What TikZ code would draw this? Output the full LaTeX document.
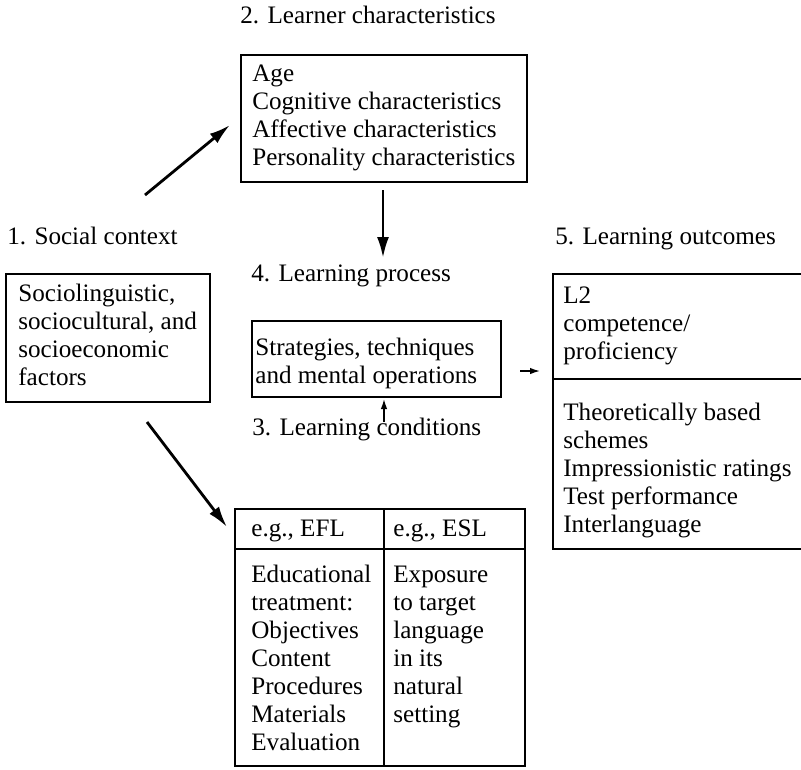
\documentclass[tikz,border=0pt]{standalone}
\usepackage{fontspec}
\setmainfont{Liberation Serif}
\usetikzlibrary{arrows.meta,fit}
\tikzset{
  lbl/.style={anchor=base west, inner sep=0, align=left, font=\fontsize{14.3}{15.9}\selectfont},
  box/.style={draw, line width=0.8pt, inner sep=0},
  bigarr/.style={-{Latex[length=0.42cm,width=0.24cm]}, line width=1.6pt},
  smallarr/.style={-{Latex[length=0.2cm,width=0.13cm]}, line width=0.8pt}
}
\begin{document}
\begin{tikzpicture}[x=0.02cm, y=-0.02cm]
\useasboundingbox (0,0) rectangle (801,769);
\node [box, fit={(241,55) (527,182)}] (learner) {};
\node [box, fit={(6,274) (210,402)}] (social) {};
\node [box, fit={(252,321) (501,397)}] (process) {};
\node [box, fit={(553,274) (812,549)}] (outcome) {};
\node [box, fit={(235,509) (525,766)}] (condition) {};
\draw [line width=0.8pt] (553,379) -- (812,379);
\draw [line width=0.8pt] (384,509) -- (384,766);
\draw [line width=0.8pt] (235,549) -- (525,549);
\node [lbl] (titleLearner) at (240,23) {2. Learner characteristics};
\node [lbl] (textLearner) at (252,165) {Age\\Cognitive characteristics\\Affective characteristics\\Personality characteristics};
\node [lbl] (titleSocial) at (7,244) {1. Social context};
\node [lbl] (textSocial) at (18,385) {Sociolinguistic,\\sociocultural, and\\socioeconomic\\factors};
\node [lbl] (titleProcess) at (251,281) {4. Learning process};
\node [lbl] (textProcess) at (255,383) {Strategies, techniques\\and mental operations};
\node [lbl] (titleCondition) at (252,435) {3. Learning conditions};
\node [lbl] (titleOutcome) at (555,244) {5. Learning outcomes};
\node [lbl] (textOutcome) at (563,359) {L2\\competence/\\proficiency};
\node [lbl] (textMeasure) at (563,532) {Theoretically based\\schemes\\Impressionistic ratings\\Test performance\\Interlanguage};
\node [lbl] (headEFL) at (251,536) {e.g., EFL};
\node [lbl] (headESL) at (393,536) {e.g., ESL};
\node [lbl] (textEFL) at (251,750) {Educational\\treatment:\\Objectives\\Content\\Procedures\\Materials\\Evaluation};
\node [lbl] (textESL) at (393,722) {Exposure\\to target\\language\\in its\\natural\\setting};
\coordinate (socialTop) at (145,195);
\coordinate (learnerIn) at (230,125);
\coordinate (learnerOut) at (383,190);
\coordinate (processIn) at (383,258);
\coordinate (conditionOut) at (384,422);
\coordinate (processBottom) at (384,399);
\coordinate (processOut) at (520,371);
\coordinate (outcomeIn) at (540,371);
\coordinate (socialBottom) at (147,422);
\coordinate (conditionIn) at (227,527);
\draw [bigarr] (socialTop) -- (learnerIn);
\draw [bigarr] (learnerOut) -- (processIn);
\draw [smallarr] (conditionOut) -- (processBottom);
\draw [smallarr] (processOut) -- (outcomeIn);
\draw [bigarr] (socialBottom) -- (conditionIn);
\end{tikzpicture}
\end{document}
